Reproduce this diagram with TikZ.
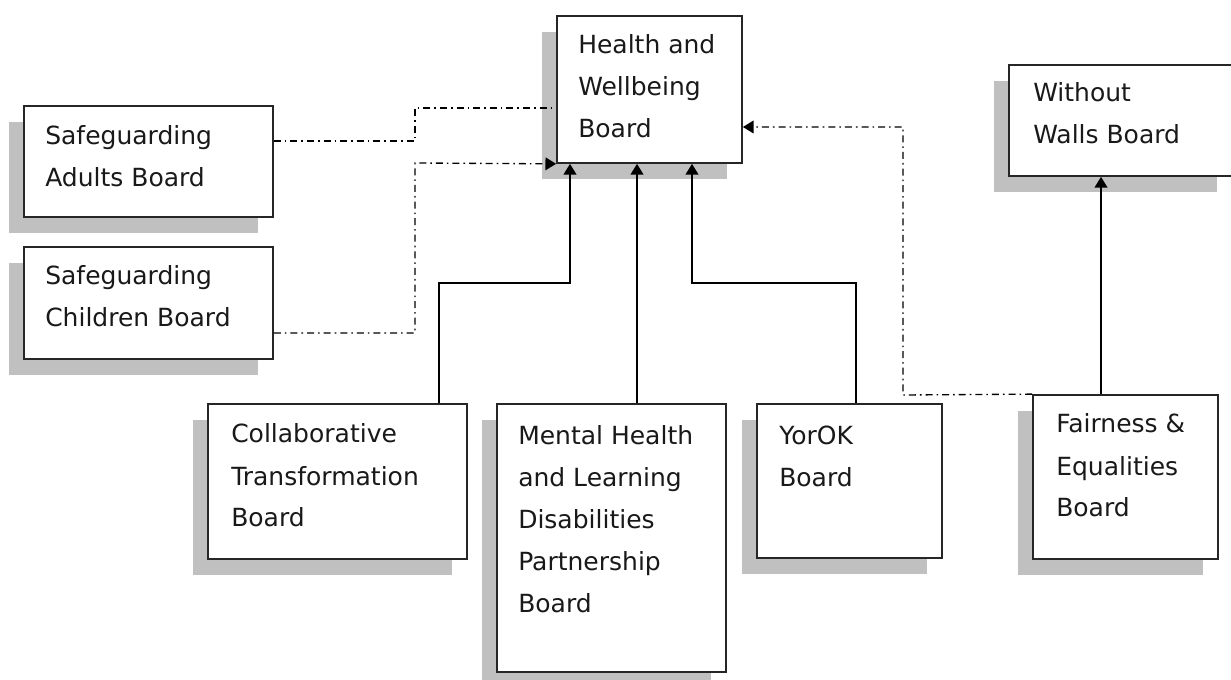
\documentclass[tikz,border=0pt]{standalone}
\usepackage{fontspec}
\setmainfont{DejaVu Sans}
\usetikzlibrary{shadows,arrows.meta}
\definecolor{shadowgray}{HTML}{C0C0C0}
\tikzset{
  box/.style={draw=black!85, line width=1.3pt, fill=white, inner sep=0pt, rectangle,
    general shadow={fill=shadowgray, shadow xshift=-11.25pt, shadow yshift=-12pt}},
  lbl/.style={anchor=base west, inner sep=0pt, align=left, text=black!90,
    font=\fontsize{18.75pt}{31.5pt}\selectfont},
  conn/.style={line width=1.1pt, black},
  dashconn/.style={line width=1pt, black, dash pattern=on 5.25pt off 3pt on 1.2pt off 3pt},
  tip/.style={-{Triangle[length=8pt,width=9.5pt]}}
}
\begin{document}
\begin{tikzpicture}[x=0.75pt,y=-0.75pt]
\clip (0,0) rectangle (1231,680);
\fill[white] (0,0) rectangle (1231,680);
% boxes
\node[box, minimum width={185*0.75pt}, minimum height={147*0.75pt}] (hwb) at (649.5,89.5) {};
\node[box, minimum width={249*0.75pt}, minimum height={111*0.75pt}] (sab) at (148.5,161.5) {};
\node[box, minimum width={249*0.75pt}, minimum height={112*0.75pt}] (scb) at (148.5,303) {};
\node[box, minimum width={223*0.75pt}, minimum height={111*0.75pt}] (wwb) at (1120.5,120.5) {};
\node[box, minimum width={259*0.75pt}, minimum height={155*0.75pt}] (ctb) at (337.5,481.5) {};
\node[box, minimum width={229*0.75pt}, minimum height={268*0.75pt}] (mhb) at (611.5,538) {};
\node[box, minimum width={185*0.75pt}, minimum height={154*0.75pt}] (yob) at (849.5,481) {};
\node[box, minimum width={185*0.75pt}, minimum height={164*0.75pt}] (feb) at (1125.5,477) {};
% labels (anchored at the baseline of the last line)
\node[lbl] (hwbt) at (578,138) {Health and\\Wellbeing\\Board};
\node[lbl] (sabt) at (45,187) {Safeguarding\\Adults Board};
\node[lbl] (scbt) at (45,327) {Safeguarding\\Children Board};
\node[lbl] (wwbt) at (1033,144) {Without\\Walls Board};
\node[lbl] (ctbt) at (231,527) {Collaborative\\Transformation\\Board};
\node[lbl] (mhbt) at (518,612) {Mental Health\\and Learning\\Disabilities\\Partnership\\Board};
\node[lbl] (yobt) at (779,486) {YorOK\\Board};
\node[lbl] (febt) at (1056,517) {Fairness \&\\Equalities\\Board};
% solid connectors
\draw[conn, tip] (ctb.north -| 439,0) -- (439,283) -- (570,283) -- (hwb.south -| 570,0);
\draw[conn, tip] (mhb.north -| 637,0) -- (hwb.south -| 637,0);
\draw[conn, tip] (yob.north -| 856,0) -- (856,283) -- (692,283) -- (hwb.south -| 692,0);
\draw[conn, tip] (feb.north -| 1101,0) -- (wwb.south -| 1101,0);
% dash-dot connectors
\draw[dashconn] (sab.east |- 0,141) -- (415,141) -- (415,108) -- (hwb.west |- 0,108);
\draw[dashconn, tip] (scb.east |- 0,333) -- (415,333) -- (415,163) -- (hwb.south west);
\draw[dashconn, tip] (feb.north west) -- (903,395) -- (903,127) -- (hwb.east |- 0,127);
\end{tikzpicture}
\end{document}
